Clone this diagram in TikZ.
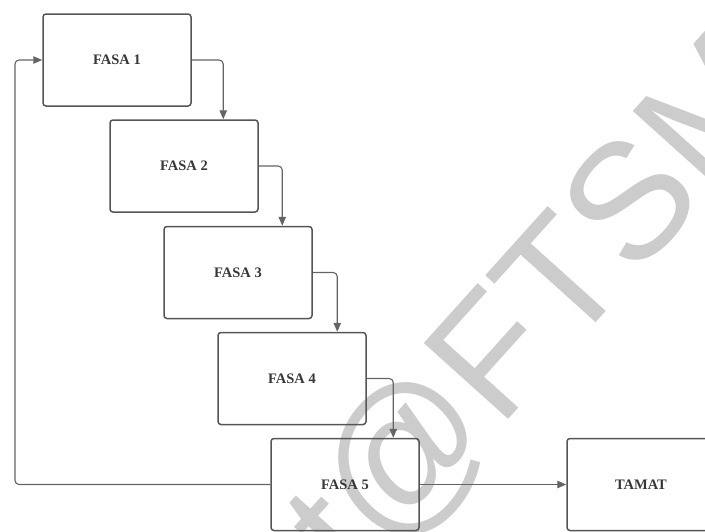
\documentclass[tikz,border=0pt]{standalone}
\usepackage{fontspec}
\setmainfont{Liberation Serif}
\newfontfamily\wmfont{Liberation Sans}
\usetikzlibrary{arrows.meta}
\definecolor{boxline}{RGB}{85,85,85}
\definecolor{connline}{RGB}{100,100,100}
\definecolor{labeltext}{RGB}{55,55,55}
\definecolor{wmgray}{RGB}{204,204,204}
\tikzset{
  phase/.style={draw=boxline, line width=1.5pt, rounded corners=3pt,
    minimum width=148pt, minimum height=92pt, inner sep=0pt,
    text=labeltext, font=\bfseries\fontsize{14.5}{16}\selectfont},
  conn/.style={draw=connline, line width=1.1pt, rounded corners=4pt,
    -{Triangle[length=9pt,width=7.5pt]}},
  watermark/.style={text=wmgray, inner sep=0pt, rotate=48, anchor=base west,
    font=\wmfont\fontsize{165}{165}\selectfont}
}
\begin{document}
\begin{tikzpicture}[x=1pt, y=-1pt]
\useasboundingbox (0,0) rectangle (705,531);
\clip (0,0) rectangle (705,531);

% watermark behind the diagram
\node[watermark] (wm) at (357,588) {t@FTSM};

% phase boxes
\node[phase] (f1) at (117,60) {FASA 1};
\node[phase] (f2) at (184,166) {FASA 2};
\node[phase] (f3) at (238,272.5) {FASA 3};
\node[phase] (f4) at (292,378.5) {FASA 4};
\node[phase] (f5) at (345,484.5) {FASA 5};
\node[phase] (end) at (641,484.5) {TAMAT};

% step-down connectors
\draw[conn] (f1.east) -| ([xshift=114pt]f2.north west);
\draw[conn] (f2.east) -| ([xshift=119pt]f3.north west);
\draw[conn] (f3.east) -| ([xshift=120pt]f4.north west);
\draw[conn] (f4.east) -| ([xshift=123pt]f5.north west);

% return loop and exit
\coordinate (loop) at (15,484.5);
\draw[conn] (f5.west) -- (loop) |- (f1.west);
\draw[conn] (f5.east) -- (end.west);
\end{tikzpicture}
\end{document}
